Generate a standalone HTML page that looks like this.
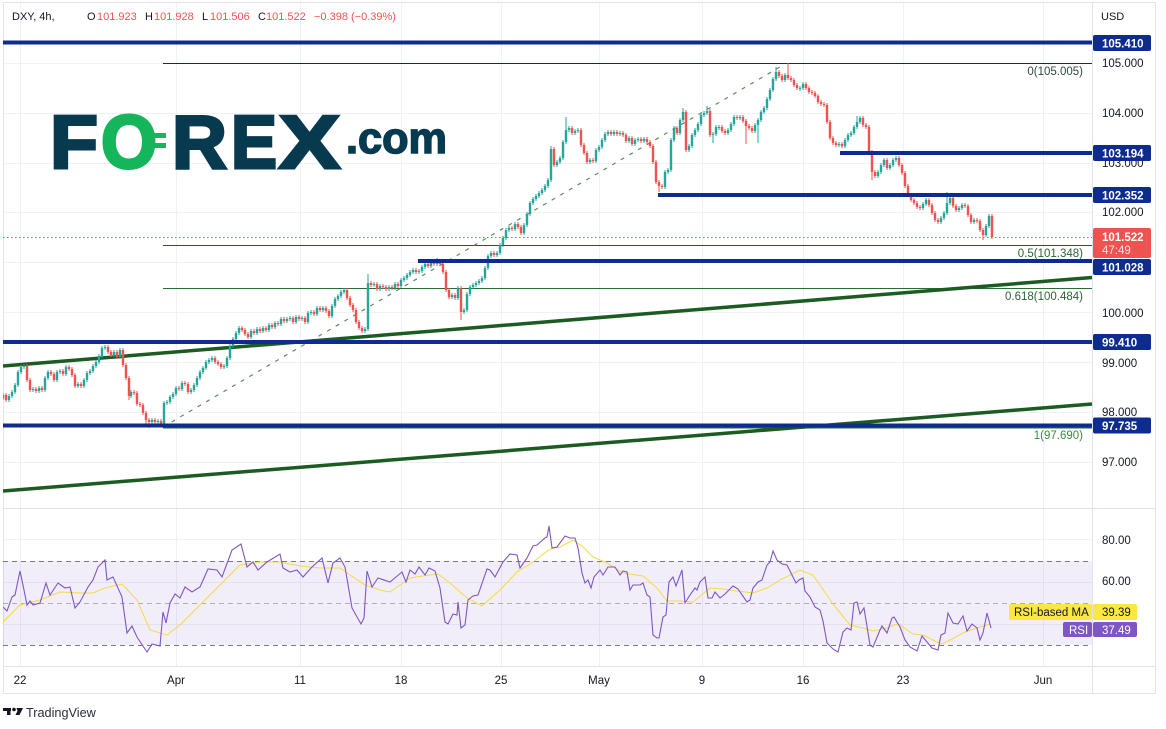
<!DOCTYPE html>
<html>
<head>
<meta charset="utf-8">
<style>
html,body{margin:0;padding:0;background:#fff;}
body{width:1166px;height:729px;overflow:hidden;}
svg{display:block;font-family:"Liberation Sans",Arial,sans-serif;}
</style>
</head>
<body>
<svg width="1166" height="729" viewBox="0 0 1166 729" xmlns="http://www.w3.org/2000/svg">
<defs>
  <clipPath id="mainclip"><rect x="3" y="3" width="1089.5" height="505"/></clipPath>
  <clipPath id="rsiclip"><rect x="3" y="509" width="1089.5" height="157"/></clipPath>
</defs>
<rect x="0" y="0" width="1166" height="729" fill="#fff"/>

<!-- grid -->
<g stroke="#eff1f6" stroke-width="1">
  <line x1="20.5" y1="3" x2="20.5" y2="666"/>
  <line x1="176.5" y1="3" x2="176.5" y2="666"/>
  <line x1="300.5" y1="3" x2="300.5" y2="666"/>
  <line x1="401.5" y1="3" x2="401.5" y2="666"/>
  <line x1="501.5" y1="3" x2="501.5" y2="666"/>
  <line x1="599.5" y1="3" x2="599.5" y2="666"/>
  <line x1="702.5" y1="3" x2="702.5" y2="666"/>
  <line x1="803.5" y1="3" x2="803.5" y2="666"/>
  <line x1="903.5" y1="3" x2="903.5" y2="666"/>
  <line x1="1043.5" y1="3" x2="1043.5" y2="666"/>
  <line x1="3" y1="63.5" x2="1092" y2="63.5"/>
  <line x1="3" y1="113.5" x2="1092" y2="113.5"/>
  <line x1="3" y1="163.5" x2="1092" y2="163.5"/>
  <line x1="3" y1="212.5" x2="1092" y2="212.5"/>
  <line x1="3" y1="262.5" x2="1092" y2="262.5"/>
  <line x1="3" y1="312.5" x2="1092" y2="312.5"/>
  <line x1="3" y1="362.5" x2="1092" y2="362.5"/>
  <line x1="3" y1="412.5" x2="1092" y2="412.5"/>
  <line x1="3" y1="462.5" x2="1092" y2="462.5"/>
  <line x1="3" y1="539.5" x2="1092" y2="539.5"/>
  <line x1="3" y1="582.5" x2="1092" y2="582.5"/>
  <line x1="3" y1="624.5" x2="1092" y2="624.5"/>
</g>

<!-- frame -->
<g stroke="#e0e3eb" stroke-width="1" fill="none">
  <rect x="3.5" y="2.5" width="1152" height="691"/>
  <line x1="1092.5" y1="3" x2="1092.5" y2="693"/>
  <line x1="3" y1="666.5" x2="1156" y2="666.5"/>
  <line x1="3" y1="508.5" x2="1156" y2="508.5"/>
</g>

<!-- FOREX logo -->
<g font-weight="bold">
  <text x="50" y="168" font-size="75" fill="#073a4e" stroke="#073a4e" stroke-width="3" textLength="48" lengthAdjust="spacingAndGlyphs">F</text>
  <text x="101" y="168" font-size="75" fill="#14b55b" stroke="#14b55b" stroke-width="3" textLength="56" lengthAdjust="spacingAndGlyphs">O</text>
  <rect x="148" y="133" width="18" height="5" fill="#14b55b"/>
  <rect x="148" y="143" width="18" height="5" fill="#14b55b"/>
  <text x="172" y="168" font-size="75" fill="#073a4e" stroke="#073a4e" stroke-width="3" textLength="55" lengthAdjust="spacingAndGlyphs">R</text>
  <text x="231" y="168" font-size="75" fill="#073a4e" stroke="#073a4e" stroke-width="3" textLength="46" lengthAdjust="spacingAndGlyphs">E</text>
  <text x="279" y="168" font-size="75" fill="#073a4e" stroke="#073a4e" stroke-width="3" textLength="61" lengthAdjust="spacingAndGlyphs">X</text>
  <text x="346" y="153" font-size="44" fill="#073a4e" stroke="#073a4e" stroke-width="1.5" textLength="101" lengthAdjust="spacingAndGlyphs">.com</text>
</g>

<!-- main pane drawings -->
<g clip-path="url(#mainclip)">
  <line x1="163" y1="63.5" x2="1092" y2="63.5" stroke="#16331f" stroke-width="1"/>
  <line x1="163" y1="245.5" x2="1092" y2="245.5" stroke="#1f5a2a" stroke-width="1"/>
  <line x1="163" y1="288.5" x2="1092" y2="288.5" stroke="#2a6b31" stroke-width="1"/>
  <line x1="163" y1="428" x2="1092" y2="428" stroke="#2e6b34" stroke-width="1"/>
  <line x1="163" y1="427" x2="785" y2="64" stroke="#5f8a63" stroke-width="1.2" stroke-dasharray="4 6"/>
  <line x1="3" y1="366" x2="1092" y2="277.5" stroke="#1c5c22" stroke-width="3.5"/>
  <line x1="3" y1="491" x2="1092" y2="404" stroke="#1c5c22" stroke-width="3.5"/>

  <!-- candles: wicks -->
  <path fill="none" stroke="#26a69a" stroke-width="1" d="M3 393V400 M9 394V402 M12 390V398 M15 383V394 M18 370V387 M21 365V374 M24 364V369 M33 387V392 M39 386V393 M45 376V392 M48 370V380 M57 370V382 M60 369V374 M66 365V376 M78 382V388 M84 378V388 M87 371V382 M90 369V375 M93 364V373 M96 360V368 M99 354V364 M102 346V358 M105 345V350 M114 350V357 M120 348V359 M131 390V398 M152 418V424 M158 419V424 M164 401V426 M167 400V405 M170 395V404 M173 392V399 M176 386V396 M182 381V391 M191 388V394 M194 383V392 M197 376V387 M200 370V380 M203 366V374 M206 360V370 M209 358V364 M212 356V362 M224 364V369 M227 356V368 M230 344V360 M233 337V348 M236 331V341 M239 326V335 M251 329V339 M257 327V335 M263 326V333 M269 323V332 M275 321V329 M281 317V326 M287 317V323 M290 316V321 M296 315V324 M302 316V321 M308 311V324 M311 310V315 M317 306V316 M323 306V312 M332 304V318 M335 297V308 M338 294V301 M341 290V298 M344 288V294 M365 327V333 M368 274V331 M374 282V287 M380 284V291 M389 285V291 M395 282V290 M401 278V288 M404 276V282 M407 273V280 M410 270V277 M413 268V274 M419 269V274 M422 265V273 M425 262V269 M431 260V268 M437 258V266 M452 293V299 M458 286V300 M464 308V314 M467 292V312 M470 285V296 M473 283V289 M476 281V287 M479 279V285 M482 276V283 M485 266V280 M488 254V270 M491 251V258 M497 251V257 M500 243V255 M503 236V247 M506 228V240 M509 226V232 M515 222V231 M524 223V235 M527 212V227 M530 201V216 M533 197V205 M536 194V201 M539 191V198 M542 188V195 M545 184V192 M548 178V188 M551 146V182 M557 160V167 M560 156V164 M563 140V160 M566 117V144 M569 126V132 M575 129V135 M578 128V133 M590 158V164 M596 148V163 M599 145V152 M602 138V149 M605 132V142 M608 130V136 M614 130V136 M620 131V136 M629 136V143 M635 138V146 M638 137V142 M644 137V143 M665 170V189 M668 168V174 M671 138V172 M674 126V142 M680 118V135 M683 108V122 M689 144V152 M692 133V148 M695 128V137 M698 122V132 M701 113V126 M704 111V117 M707 106V115 M713 132V143 M716 125V136 M719 125V130 M728 128V135 M731 122V132 M734 115V126 M740 115V120 M755 123V133 M758 118V143 M761 110V122 M764 106V114 M767 97V110 M770 88V101 M773 77V92 M776 67V81 M785 73V82 M800 86V91 M803 82V90 M839 142V147 M845 138V148 M848 133V142 M851 131V137 M854 125V135 M857 116V129 M860 116V124 M878 170V178 M881 163V174 M884 158V167 M890 163V170 M893 158V167 M896 156V162 M923 202V210 M926 198V206 M941 216V224 M944 211V220 M947 192V215 M950 196V205 M959 206V212 M962 203V210 M974 218V224 M986 224V237 M989 214V228"/>
  <path fill="none" stroke="#ef5350" stroke-width="1" d="M6 393V402 M27 364V382 M30 378V392 M36 387V393 M42 386V392 M51 370V376 M54 372V382 M63 369V376 M69 365V371 M72 367V377 M75 373V388 M81 382V388 M108 345V354 M111 350V357 M117 350V359 M123 348V367 M126 363V380 M129 376V400 M134 390V395 M137 391V406 M140 402V407 M143 403V415 M146 411V426 M149 418V428 M155 418V424 M161 419V426 M179 386V391 M185 381V386 M188 382V394 M215 356V364 M218 360V366 M221 362V369 M242 326V332 M245 328V336 M248 332V339 M254 329V335 M260 327V333 M266 326V332 M272 323V329 M278 321V326 M284 317V323 M293 316V324 M299 315V321 M305 316V324 M314 310V316 M320 306V312 M326 306V313 M329 309V318 M347 288V300 M350 296V307 M353 303V312 M356 308V324 M359 320V330 M362 326V333 M371 281V287 M377 282V291 M383 284V289 M386 285V291 M392 285V290 M398 282V288 M416 268V274 M428 262V268 M434 260V266 M440 260V266 M443 262V274 M446 270V292 M449 288V299 M455 293V300 M461 286V320 M494 251V257 M512 226V231 M518 222V229 M521 225V235 M554 147V167 M572 126V135 M581 128V147 M584 143V155 M587 151V164 M593 158V163 M611 130V136 M617 130V136 M623 131V137 M626 133V143 M632 136V146 M641 137V143 M647 137V144 M650 140V148 M653 144V164 M656 160V184 M659 180V192 M662 184V189 M677 126V135 M686 110V152 M710 109V137 M722 125V133 M725 129V135 M737 115V120 M743 115V123 M746 119V144 M749 124V130 M752 126V133 M779 70V78 M782 74V82 M788 63V80 M791 76V82 M794 78V87 M797 83V90 M806 82V90 M809 86V94 M812 90V95 M815 91V98 M818 94V104 M821 100V106 M824 102V107 M827 103V124 M830 120V140 M833 136V145 M836 141V147 M842 142V148 M863 116V127 M866 123V129 M869 125V154 M872 150V180 M875 170V178 M887 158V170 M899 156V167 M902 163V175 M905 171V188 M908 184V197 M911 193V202 M914 198V205 M917 201V209 M920 205V210 M929 198V207 M932 203V215 M935 211V222 M938 218V224 M953 196V208 M956 204V212 M965 203V208 M968 204V217 M971 213V224 M977 218V223 M980 219V232 M983 228V240 M992 214V239"/>
  <!-- candles: bodies -->
  <path fill="none" stroke="#26a69a" stroke-width="2.4" d="M3 395V398 M9 396V400 M12 392V396 M15 385V392 M18 372V385 M21 367V372 M24 366V367 M33 389V390 M39 388V391 M45 378V390 M48 372V378 M57 372V380 M60 371V372 M66 367V374 M78 384V386 M84 380V386 M87 373V380 M90 371V373 M93 366V371 M96 362V366 M99 356V362 M102 348V356 M105 347V348 M114 352V355 M120 350V357 M131 392V396 M152 420V422 M158 421V422 M164 403V424 M167 402V403 M170 397V402 M173 394V397 M176 388V394 M182 383V389 M191 390V392 M194 385V390 M197 378V385 M200 372V378 M203 368V372 M206 362V368 M209 360V362 M212 358V360 M224 366V367 M227 358V366 M230 346V358 M233 339V346 M236 333V339 M239 328V333 M251 331V337 M257 329V333 M263 328V331 M269 325V330 M275 323V327 M281 319V324 M287 319V321 M290 318V319 M296 317V322 M302 318V319 M308 313V322 M311 312V313 M317 308V314 M323 308V310 M332 306V316 M335 299V306 M338 296V299 M341 292V296 M344 290V292 M365 329V331 M368 283V329 M374 284V285 M380 286V289 M389 287V289 M395 284V288 M401 280V286 M404 278V280 M407 275V278 M410 272V275 M413 270V272 M419 271V272 M422 267V271 M425 264V267 M431 262V266 M437 262V264 M452 295V297 M458 288V298 M464 310V312 M467 294V310 M470 287V294 M473 285V287 M476 283V285 M479 281V283 M482 278V281 M485 268V278 M488 256V268 M491 253V256 M497 253V255 M500 245V253 M503 238V245 M506 230V238 M509 228V230 M515 224V229 M524 225V233 M527 214V225 M530 203V214 M533 199V203 M536 196V199 M539 193V196 M542 190V193 M545 186V190 M548 180V186 M551 149V180 M557 162V165 M560 158V162 M563 142V158 M566 130V142 M569 128V130 M575 131V133 M578 130V131 M590 160V162 M596 150V161 M599 147V150 M602 140V147 M605 134V140 M608 132V134 M614 132V134 M620 133V134 M629 138V141 M635 140V144 M638 139V140 M644 139V141 M665 172V187 M668 170V172 M671 140V170 M674 128V140 M680 120V133 M683 112V120 M689 146V150 M692 135V146 M695 130V135 M698 124V130 M701 115V124 M704 113V115 M707 111V113 M713 134V135 M716 127V134 M719 127V128 M728 130V133 M731 124V130 M734 117V124 M740 117V118 M755 125V131 M758 120V125 M761 112V120 M764 108V112 M767 99V108 M770 90V99 M773 79V90 M776 72V79 M785 75V80 M800 88V89 M803 84V88 M839 144V145 M845 140V146 M848 135V140 M851 133V135 M854 127V133 M857 122V127 M860 118V122 M878 172V176 M881 165V172 M884 160V165 M890 165V168 M893 160V165 M896 158V160 M923 204V208 M926 200V204 M941 218V222 M944 213V218 M947 203V213 M950 198V203 M959 208V210 M962 205V208 M974 220V222 M986 226V235 M989 216V226"/>
  <path fill="none" stroke="#ef5350" stroke-width="2.4" d="M6 395V400 M27 366V380 M30 380V390 M36 389V391 M42 388V390 M51 372V374 M54 374V380 M63 371V374 M69 367V369 M72 369V375 M75 375V386 M81 384V386 M108 347V352 M111 352V355 M117 352V357 M123 350V365 M126 365V378 M129 378V396 M134 392V393 M137 393V404 M140 404V405 M143 405V413 M146 413V420 M149 420V422 M155 420V422 M161 421V424 M179 388V389 M185 383V384 M188 384V392 M215 358V362 M218 362V364 M221 364V367 M242 328V330 M245 330V334 M248 334V337 M254 331V333 M260 329V331 M266 328V330 M272 325V327 M278 323V324 M284 319V321 M293 318V322 M299 317V319 M305 318V322 M314 312V314 M320 308V310 M326 308V311 M329 311V316 M347 290V298 M350 298V305 M353 305V310 M356 310V322 M359 322V328 M362 328V331 M371 283V285 M377 284V289 M383 286V287 M386 287V289 M392 287V288 M398 284V286 M416 270V272 M428 264V266 M434 262V264 M440 262V264 M443 264V272 M446 272V290 M449 290V297 M455 295V298 M461 288V312 M494 253V255 M512 228V229 M518 224V227 M521 227V233 M554 149V165 M572 128V133 M581 130V145 M584 145V153 M587 153V162 M593 160V161 M611 132V134 M617 132V134 M623 133V135 M626 135V141 M632 138V144 M641 139V141 M647 139V142 M650 142V146 M653 146V162 M656 162V182 M659 182V186 M662 186V187 M677 128V133 M686 112V150 M710 111V135 M722 127V131 M725 131V133 M737 117V118 M743 117V121 M746 121V126 M749 126V128 M752 128V131 M779 72V76 M782 76V80 M788 75V78 M791 78V80 M794 80V85 M797 85V88 M806 84V88 M809 88V92 M812 92V93 M815 93V96 M818 96V102 M821 102V104 M824 104V105 M827 105V122 M830 122V138 M833 138V143 M836 143V145 M842 144V146 M863 118V125 M866 125V127 M869 127V152 M872 152V172 M875 172V176 M887 160V168 M899 158V165 M902 165V173 M905 173V186 M908 186V195 M911 195V200 M914 200V203 M917 203V207 M920 207V208 M929 200V205 M932 205V213 M935 213V220 M938 220V222 M953 198V206 M956 206V210 M965 205V206 M968 206V215 M971 215V222 M977 220V221 M980 221V230 M983 230V235 M992 216V237"/>

  <!-- blue levels -->
  <g stroke="#0e2c90" stroke-width="4">
    <line x1="3" y1="42.5" x2="1092" y2="42.5"/>
    <line x1="840" y1="153" x2="1092" y2="153"/>
    <line x1="658" y1="195" x2="1092" y2="195"/>
    <line x1="418" y1="261" x2="1092" y2="261"/>
    <line x1="3" y1="342" x2="1092" y2="342"/>
    <line x1="3" y1="425.5" x2="1092" y2="425.5"/>
  </g>
  <line x1="3" y1="237.5" x2="1092" y2="237.5" stroke="#ef5350" stroke-width="1" stroke-dasharray="1.5 2.5"/>
</g>

<!-- fib labels -->
<g font-size="11.5" text-anchor="end">
  <text x="1083" y="75" fill="#2d4a37">0(105.005)</text>
  <text x="1083" y="257" fill="#2e6236">0.5(101.348)</text>
  <text x="1083" y="300" fill="#2e6236">0.618(100.484)</text>
  <text x="1083" y="439" fill="#3a8a40">1(97.690)</text>
</g>

<!-- header -->
<g font-size="11" fill="#131722">
  <text x="12" y="20">DXY, 4h,</text>
  <text x="87" y="20">O</text><text x="97" y="20" fill="#ef5350">101.923</text>
  <text x="145" y="20">H</text><text x="154" y="20" fill="#ef5350">101.928</text>
  <text x="202" y="20">L</text><text x="210" y="20" fill="#ef5350">101.506</text>
  <text x="258" y="20">C</text><text x="266" y="20" fill="#ef5350">101.522</text>
  <text x="314" y="20" fill="#ef5350">−0.398 (−0.39%)</text>
  <text x="1101" y="20">USD</text>
</g>

<!-- right axis tick labels -->
<g font-size="11.5" fill="#131722">
  <text x="1102" y="67">105.000</text>
  <text x="1102" y="117">104.000</text>
  <text x="1102" y="167">103.000</text>
  <text x="1102" y="216">102.000</text>
  <text x="1102" y="317">100.000</text>
  <text x="1102" y="367">99.000</text>
  <text x="1102" y="416">98.000</text>
  <text x="1102" y="466">97.000</text>
  <text x="1102" y="544">80.00</text>
  <text x="1102" y="585">60.00</text>
</g>

<!-- price label boxes -->
<g font-size="11.5" font-weight="bold" fill="#fff">
  <rect x="1093" y="35" width="58" height="16" rx="2" fill="#0e2c90"/><text x="1102" y="47.5">105.410</text>
  <rect x="1093" y="145" width="58" height="16" rx="2" fill="#0e2c90"/><text x="1102" y="157.5">103.194</text>
  <rect x="1093" y="187" width="58" height="16" rx="2" fill="#0e2c90"/><text x="1102" y="199.5">102.352</text>
  <rect x="1093" y="228" width="58" height="30" rx="2" fill="#ef5350"/><text x="1102" y="241">101.522</text>
  <text x="1102" y="254" font-weight="normal" fill="#fde5e5">47:49</text>
  <rect x="1093" y="259" width="58" height="16" rx="2" fill="#0e2c90"/><text x="1102" y="271.5">101.028</text>
  <rect x="1093" y="334" width="58" height="16" rx="2" fill="#0e2c90"/><text x="1102" y="346.5">99.410</text>
  <rect x="1093" y="417.5" width="58" height="16" rx="2" fill="#0e2c90"/><text x="1102" y="430">97.735</text>
</g>

<!-- RSI pane -->
<g clip-path="url(#rsiclip)">
  <rect x="3" y="561" width="1089" height="84" fill="#7e57c2" fill-opacity="0.1"/>
  <line x1="3" y1="561.5" x2="1092" y2="561.5" stroke="#787b86" stroke-width="1" stroke-dasharray="5 4"/>
  <line x1="3" y1="603.5" x2="1092" y2="603.5" stroke="#787b86" stroke-opacity="0.55" stroke-width="1" stroke-dasharray="5 4"/>
  <line x1="3" y1="645.5" x2="1092" y2="645.5" stroke="#787b86" stroke-width="1" stroke-dasharray="5 4"/>
  <polyline fill="none" stroke="#f5d94a" stroke-width="1" points="3,622 20,605 40,600 60,592 80,593 93,593 105,588 122,584 137,600 150,630 167,635 180,625 200,605 220,585 240,565 260,562 280,562 300,566 320,568 340,568 350,575 365,585 380,590 390,592 410,578 423,576 438,574 450,583 467,598 482,606 500,590 517,572 533,562 550,549 560,547 573,540 583,547 593,557 607,563 623,573 643,576 657,588 667,601 680,601 693,602 710,588 723,589 737,591 753,593 767,588 780,580 800,570 813,575 833,604 850,625 863,628 873,631 887,628 897,624 900,625 913,634 923,635 937,642 942,644 950,640 965,632 977,628 990,624"/>
  <polyline fill="none" stroke="#7e57c2" stroke-width="1.1" points="3,607 7,611 12,597 15,595 20,571 24,590 27,605 30,601 33,605 40,603 46,583 50,595 58,583 65,588 70,587 75,608 80,602 88,587 93,580 98,567 105,560 107,580 113,577 122,597 127,633 132,626 137,637 147,652 152,644 160,646 163,612 166,623 170,603 175,594 180,598 185,587 192,592 200,587 208,569 217,570 222,577 232,550 241,544 247,567 253,562 258,570 267,562 280,554 283,568 290,572 297,570 303,577 312,567 322,558 328,583 333,563 340,558 345,567 352,608 361,624 364,618 367,571 372,587 378,578 390,582 402,572 406,582 410,570 415,574 419,567 425,575 429,568 435,571 440,588 445,622 448,624 453,614 457,615 458,602 461,628 465,625 468,600 473,596 478,595 487,569 490,570 495,577 503,562 510,554 517,555 520,568 527,558 533,546 537,545 545,538 547,537 549,526 552,548 557,547 565,536 570,538 575,538 578,548 582,573 585,583 588,580 591,588 594,577 600,570 603,575 608,567 615,567 620,575 623,571 627,572 630,590 633,585 640,585 643,583 647,595 650,597 653,635 657,638 659,638 663,617 666,615 669,582 673,577 676,586 679,578 682,570 685,603 690,595 695,588 697,590 700,582 705,577 708,598 712,598 715,592 720,598 725,594 733,586 738,589 747,602 750,600 753,588 758,582 762,580 767,565 770,562 773,551 777,560 782,564 787,565 792,575 796,583 799,580 803,578 805,591 810,597 815,607 820,610 823,621 827,643 833,649 838,652 843,632 847,628 851,630 854,603 857,602 860,614 864,608 870,645 873,647 880,630 882,626 887,633 892,618 894,617 900,627 905,640 910,647 917,651 922,636 927,642 932,648 938,650 941,635 945,633 948,613 953,623 958,624 963,616 967,631 972,624 977,628 980,640 983,633 987,613 991,628"/>
</g>

<!-- RSI labels -->
<g font-size="11.5">
  <rect x="1009" y="604" width="83" height="16" rx="2" fill="#fbe744"/>
  <text x="1014" y="616" fill="#131722">RSI-based MA</text>
  <rect x="1093" y="604" width="44" height="16" rx="2" fill="#fbe744"/>
  <text x="1102" y="616" fill="#131722">39.39</text>
  <rect x="1063" y="622" width="29" height="15" rx="2" fill="#7e57c2"/>
  <text x="1069" y="634" fill="#fff">RSI</text>
  <rect x="1093" y="622" width="44" height="15" rx="2" fill="#7e57c2"/>
  <text x="1102" y="634" fill="#fff">37.49</text>
</g>

<!-- time axis -->
<g font-size="11.5" fill="#131722" text-anchor="middle">
  <text x="20" y="684">22</text>
  <text x="176" y="684">Apr</text>
  <text x="300" y="684">11</text>
  <text x="401" y="684">18</text>
  <text x="501" y="684">25</text>
  <text x="599" y="684">May</text>
  <text x="702" y="684">9</text>
  <text x="803" y="684">16</text>
  <text x="903" y="684">23</text>
  <text x="1043" y="684">Jun</text>
</g>

<!-- TradingView footer -->
<g fill="#131722">
  <rect x="3" y="708" width="8" height="3"/>
  <rect x="7" y="708" width="3.5" height="7"/>
  <circle cx="14" cy="709.5" r="1.8"/>
  <polygon points="16.5,708 23,708 19.5,715 15.5,715 17.5,711"/>
  <text x="26" y="717" font-size="12.7" fill="#2a2e39">TradingView</text>
</g>
</svg>
</body>
</html>
